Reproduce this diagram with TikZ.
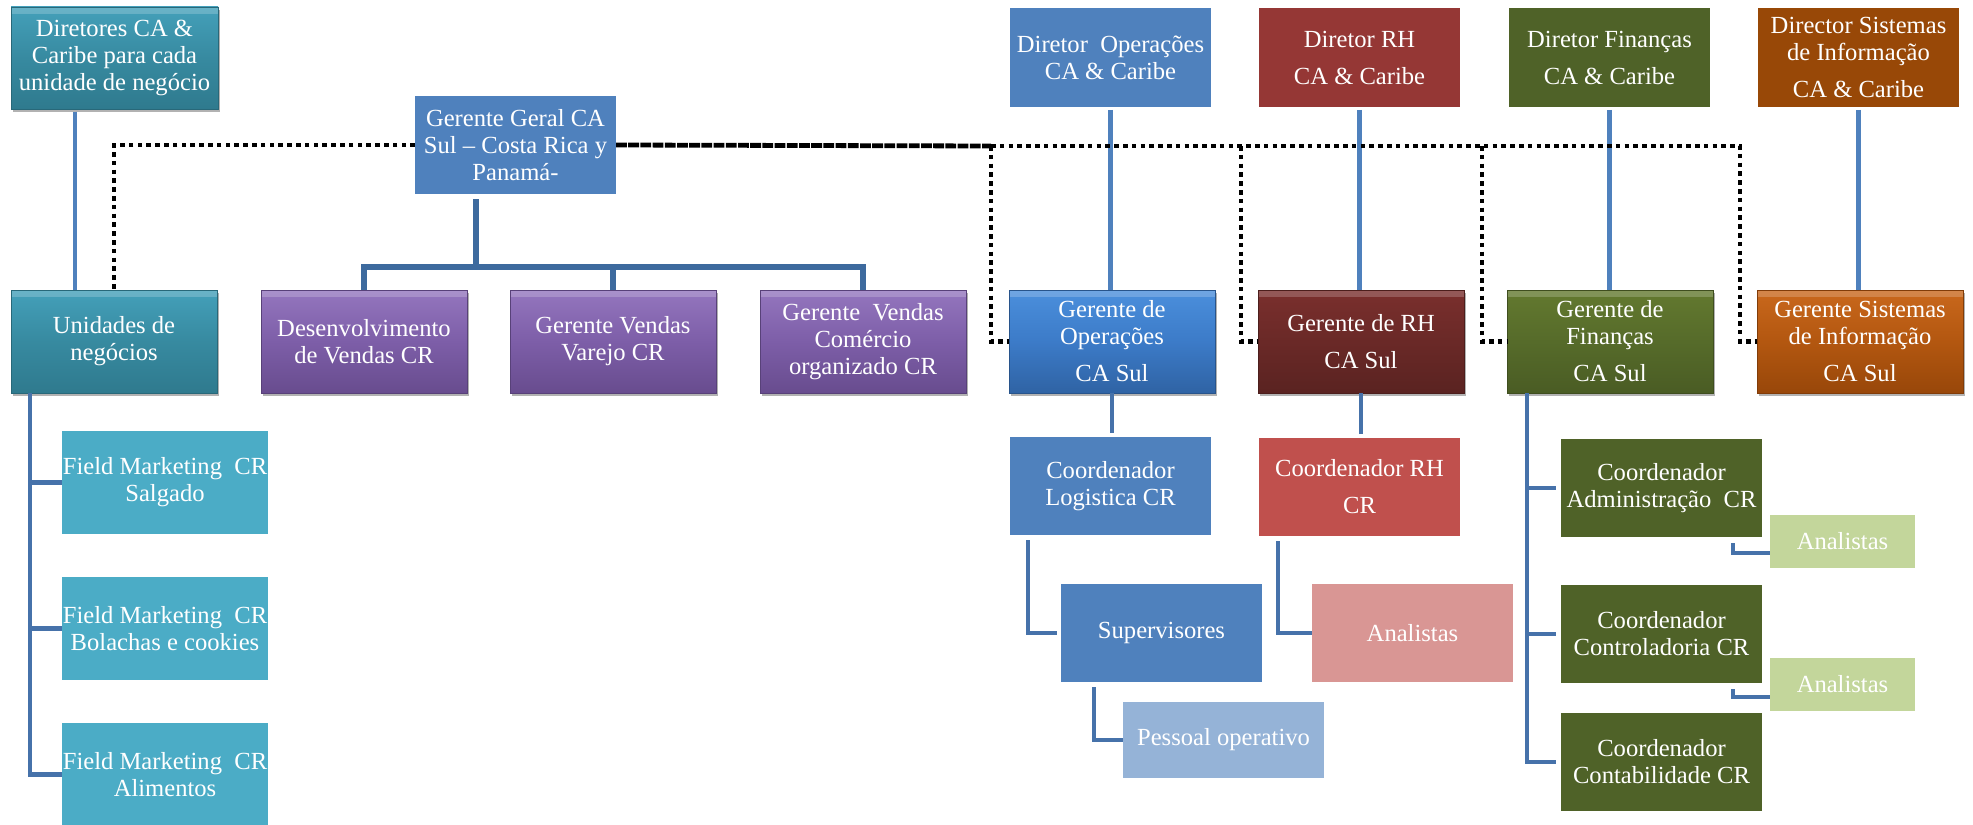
\documentclass[tikz,border=0pt]{standalone}
\usepackage{fontspec}
\setmainfont{Liberation Serif}
\usetikzlibrary{shadows}

% flat fills
\definecolor{cTealFlat}{HTML}{4BACC6}
\definecolor{cBlue}{HTML}{4F81BD}
\definecolor{cBlueLight}{HTML}{95B3D7}
\definecolor{cRedDir}{HTML}{953735}
\definecolor{cRed}{HTML}{C0504D}
\definecolor{cRose}{HTML}{D99694}
\definecolor{cOlive}{HTML}{4F6228}
\definecolor{cOliveLight}{HTML}{C3D69B}
\definecolor{cRust}{HTML}{984807}
% gradient fills (top / middle / bottom)
\definecolor{tealT}{HTML}{44A0BA}\definecolor{tealM}{HTML}{378AA0}\definecolor{tealB}{HTML}{2F7A8E}
\definecolor{purpT}{HTML}{9476BE}\definecolor{purpM}{HTML}{7D5EA8}\definecolor{purpB}{HTML}{684C8E}
\definecolor{blueT}{HTML}{4B8FDC}\definecolor{blueM}{HTML}{3C7BC8}\definecolor{blueB}{HTML}{2F63A4}
\definecolor{marT}{HTML}{7A2F2D}\definecolor{marM}{HTML}{6A2927}\definecolor{marB}{HTML}{5A2321}
\definecolor{grnT}{HTML}{63792F}\definecolor{grnM}{HTML}{566B2A}\definecolor{grnB}{HTML}{4A5C24}
\definecolor{orgT}{HTML}{C9681C}\definecolor{orgM}{HTML}{B35710}\definecolor{orgB}{HTML}{98470A}
% connector colours
\definecolor{lnDir}{HTML}{4F81BD}
\definecolor{lnTree}{HTML}{3D6A9E}
\definecolor{lnSub}{HTML}{4672AA}

\begin{document}
\begin{tikzpicture}[x=0.5pt,y=-0.5pt,
  box/.style={rectangle, inner sep=0pt, outer sep=0pt, anchor=north west,
    align=center, text=white, font=\fontsize{12.3}{13.5}\selectfont},
  flat/.style={box, fill=#1},
  bevel/.style={box, top color=#1T, bottom color=#1B, middle color=#1M,
    draw=#1B!85!black, line width=0.4pt,
    path picture={\fill[white, opacity=0.2]
      (path picture bounding box.north west) rectangle
      ([yshift=-3.5pt]path picture bounding box.north east);},
    drop shadow={shadow xshift=1pt, shadow yshift=-1.6pt, opacity=0.3, fill=black}},
  topsz/.style={minimum width=100.5pt, minimum height=49.5pt},
  midsz/.style={minimum width=103pt, minimum height=51.5pt},
  crdsz/.style={minimum width=100.5pt, minimum height=49pt},
  ansz/.style={minimum width=72.5pt, minimum height=26.5pt},
  dirline/.style={draw=lnDir, line width=2.4pt, shorten <=1.5pt},
  treeline/.style={draw=lnTree, line width=2.6pt},
  subline/.style={draw=lnSub, line width=2.3pt},
  dotline/.style={draw=black, line width=2.4pt, dash pattern=on 2.3pt off 2.1pt},
  trunkline/.style={draw=black, line width=2.4pt, dash pattern=on 5.4pt off 0.7pt}
]
\useasboundingbox[fill=white] (0,0) rectangle (1973,824);

% ---------- directors (top row) ----------
\node[bevel=teal, minimum width=103.5pt, minimum height=51pt]
  (dir) at (11,7) {Diretores CA \&\\Caribe para cada\\unidade de negócio};
\node[flat=cBlue, topsz]   (dops) at (1010,8) {Diretor~ Operações\\CA \& Caribe};
\node[flat=cRedDir, topsz] (drh)  at (1259,8) {Diretor RH\\[5pt]CA \& Caribe};
\node[flat=cOlive, topsz]  (dfin) at (1509,8) {Diretor Finanças\\[5pt]CA \& Caribe};
\node[flat=cRust, topsz]   (dsis) at (1758,8) {Director Sistemas\\de Informação\\[5pt]CA \& Caribe};

% ---------- general manager ----------
\node[flat=cBlue, minimum width=100.5pt, minimum height=49pt]
  (gg) at (415,96) {Gerente Geral CA\\Sul – Costa Rica y\\Panamá-};

% ---------- managers (middle row) ----------
\node[bevel=teal, midsz] (un)   at (11,290)   {Unidades de\\negócios};
\node[bevel=purp, midsz] (desv) at (261,290)  {Desenvolvimento\\de Vendas CR};
\node[bevel=purp, midsz] (var)  at (510,290)  {Gerente Vendas\\Varejo CR};
\node[bevel=purp, midsz] (com)  at (760,290)  {Gerente~ Vendas\\Comércio\\organizado CR};
\node[bevel=blue, midsz] (gops) at (1009,290) {Gerente de\\Operações\\[5pt]CA Sul};
\node[bevel=mar,  midsz] (grh)  at (1258,290) {Gerente de RH\\[5pt]CA Sul};
\node[bevel=grn,  midsz] (gfin) at (1507,290) {Gerente de\\Finanças\\[5pt]CA Sul};
\node[bevel=org,  midsz] (gsis) at (1757,290) {Gerente Sistemas\\de Informação\\[5pt]CA Sul};

% ---------- business units ----------
\node[flat=cTealFlat, midsz] (fm1) at (62,431) {Field Marketing~ CR\\Salgado};
\node[flat=cTealFlat, midsz] (fm2) at (62,577) {Field Marketing~ CR\\Bolachas e cookies};
\node[flat=cTealFlat, midsz] (fm3) at (62,723) {Field Marketing~ CR\\Alimentos};

% ---------- operations / HR ----------
\node[flat=cBlue, crdsz] (clog) at (1010,437) {Coordenador\\Logistica CR};
\node[flat=cRed,  crdsz] (crh)  at (1259,438) {Coordenador RH\\[5pt]CR};
\node[flat=cBlue, crdsz] (sup)  at (1061,584) {Supervisores};
\node[flat=cRose, crdsz] (anrh) at (1312,584) {Analistas};
\node[flat=cBlueLight, minimum width=100.5pt, minimum height=38pt] (pess) at (1123,702) {Pessoal operativo};

% ---------- finance ----------
\node[flat=cOlive, crdsz] (cadm) at (1561,439) {Coordenador\\Administração~ CR};
\node[flat=cOlive, crdsz] (cctl) at (1561,585) {Coordenador\\Controladoria CR};
\node[flat=cOlive, crdsz] (ccnt) at (1561,713) {Coordenador\\Contabilidade CR};
\node[flat=cOliveLight, ansz] (an1) at (1770,515) {Analistas};
\node[flat=cOliveLight, ansz] (an2) at (1770,658) {Analistas};

% ---------- helper coordinates for off-centre connectors ----------
\coordinate (xdu)  at (75,0);
\coordinate (xgg)  at (476,0);
\coordinate (ggbar) at (476,267);
\coordinate (xun)  at (30,0);
\coordinate (xlog) at (1028,0);
\coordinate (xrh)  at (1278,0);
\coordinate (xsup) at (1094,0);
\coordinate (xfin) at (1527,0);
\coordinate (k1)   at (1733,553);
\coordinate (k2)   at (1733,697);
\coordinate (jops) at (991,146);
\coordinate (jrh)  at (1241,146);
\coordinate (jfin) at (1482,146);
\coordinate (jsis) at (1740,146);

% ---------- director lines ----------
\draw[dirline] (xdu |- dir.south) -- (xdu |- un.north);
\draw[dirline] (dops.south) -- (dops.south |- gops.north);
\draw[dirline] (drh.south)  -- (drh.south |- grh.north);
\draw[dirline] (dfin.south) -- (dfin.south |- gfin.north);
\draw[dirline] (dsis.south) -- (dsis.south |- gsis.north);

% ---------- dotted functional lines ----------
\draw[dotline] (gg.west) -| (un.north);
\draw[trunkline] (gg.east) -- (jops);
\draw[dotline] (jops) -- (jsis) |- (gsis.west);
\draw[dotline] (jops) |- (gops.west);
\draw[dotline] (jrh)  |- (grh.west);
\draw[dotline] (jfin) |- (gfin.west);

% ---------- sales tree ----------
\draw[treeline, shorten <=2.5pt] (xgg |- gg.south) -- (ggbar);
\draw[treeline] (desv.north) -- (desv.north |- ggbar) -- (com.north |- ggbar) -- (com.north);
\draw[treeline] (var.north) -- (var.north |- ggbar);

% ---------- business units tree ----------
\draw[subline] (xun |- un.south) -- (xun |- fm3.west) -- (fm3.west);
\draw[subline] (xun |- fm1.west) -- (fm1.west);
\draw[subline] (xun |- fm2.west) -- (fm2.west);

% ---------- operations / HR ----------
\draw[subline, shorten >=2pt] (gops.south) -- (gops.south |- clog.north);
\draw[subline, shorten >=2pt] (grh.south)  -- (grh.south |- crh.north);
\draw[subline, shorten <=2.5pt, shorten >=2pt] (xlog |- clog.south) |- (sup.west);
\draw[subline, shorten <=2.5pt] (xrh |- crh.south) |- (anrh.west);
\draw[subline, shorten <=2.5pt] (xsup |- sup.south) |- (pess.west);

% ---------- finance tree ----------
\draw[subline, shorten >=2.5pt] (xfin |- gfin.south) -- (xfin |- ccnt.west) -- (ccnt.west);
\draw[subline, shorten >=2.5pt] (xfin |- cadm.west) -- (cadm.west);
\draw[subline, shorten >=2.5pt] (xfin |- cctl.west) -- (cctl.west);
\draw[subline, shorten <=3pt] (k1 |- cadm.south) -- (k1) -- (k1 -| an1.west);
\draw[subline, shorten <=3pt] (k2 |- cctl.south) -- (k2) -- (k2 -| an2.west);
\end{tikzpicture}
\end{document}
